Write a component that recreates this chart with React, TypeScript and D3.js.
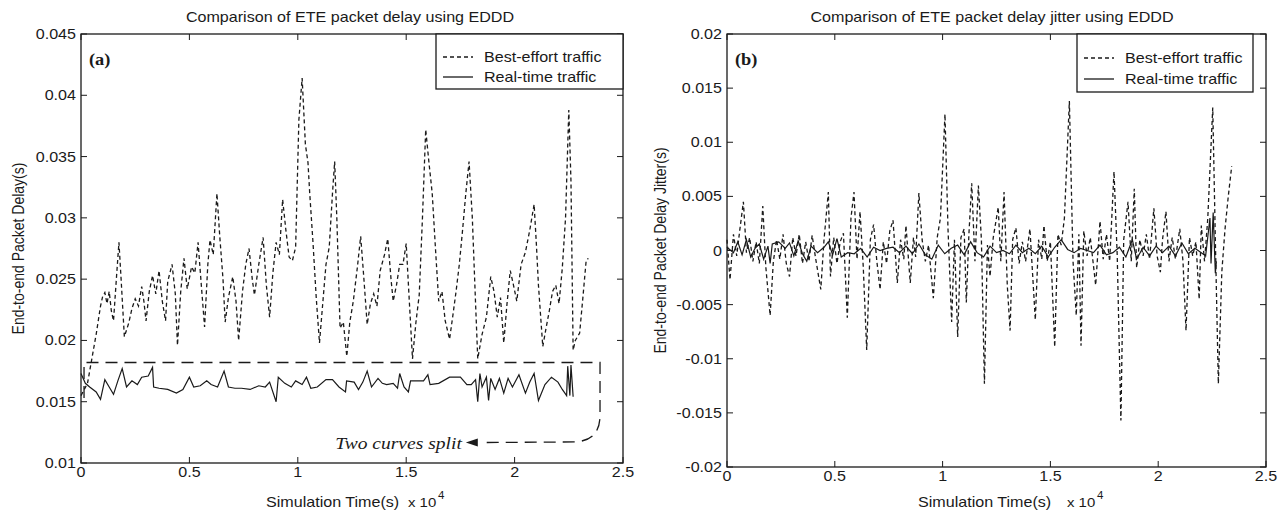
import * as d3 from "d3";
import { useEffect, useRef } from "react";

// time axis is in units of 10^4 s, like the original figure

// (a) end-to-end delay, best-effort traffic
const beTimeA = [0, 0.03, 0.05, 0.07, 0.09, 0.1, 0.11, 0.12, 0.13, 0.14, 0.15, 0.165, 0.175, 0.185, 0.2, 0.22, 0.235, 0.25, 0.265, 0.28, 0.29, 0.3, 0.315, 0.33, 0.345, 0.36, 0.375, 0.39, 0.4, 0.42, 0.435, 0.445, 0.46, 0.475, 0.49, 0.51, 0.525, 0.54, 0.555, 0.57, 0.585, 0.595, 0.61, 0.627, 0.64, 0.655, 0.665, 0.68, 0.7, 0.715, 0.727, 0.745, 0.76, 0.775, 0.79, 0.8, 0.82, 0.84, 0.855, 0.87, 0.885, 0.9, 0.915, 0.93, 0.945, 0.96, 0.975, 0.99, 1.005, 1.02, 1.035, 1.047, 1.055, 1.07, 1.085, 1.1, 1.115, 1.13, 1.145, 1.16, 1.17, 1.18, 1.195, 1.21, 1.226, 1.24, 1.256, 1.275, 1.29, 1.305, 1.32, 1.335, 1.35, 1.365, 1.38, 1.4, 1.415, 1.43, 1.44, 1.455, 1.47, 1.485, 1.5, 1.515, 1.529, 1.545, 1.56, 1.575, 1.59, 1.605, 1.62, 1.635, 1.65, 1.665, 1.68, 1.7, 1.715, 1.73, 1.745, 1.76, 1.775, 1.79, 1.805, 1.82, 1.83, 1.85, 1.87, 1.89, 1.905, 1.92, 1.935, 1.95, 1.965, 1.98, 1.995, 2.01, 2.03, 2.05, 2.07, 2.09, 2.1, 2.11, 2.13, 2.145, 2.16, 2.175, 2.19, 2.205, 2.22, 2.235, 2.25, 2.26, 2.27, 2.28, 2.3, 2.315, 2.33, 2.34];
const beDelay = [0.0155, 0.0165, 0.0185, 0.0205, 0.0228, 0.0236, 0.0239, 0.023, 0.024, 0.0224, 0.0216, 0.0255, 0.028, 0.025, 0.0203, 0.0214, 0.0226, 0.0234, 0.0228, 0.0244, 0.0232, 0.0216, 0.024, 0.0253, 0.0238, 0.0257, 0.0232, 0.0216, 0.0248, 0.0262, 0.0238, 0.0196, 0.024, 0.0267, 0.0242, 0.026, 0.0255, 0.028, 0.0245, 0.0211, 0.0262, 0.0282, 0.027, 0.032, 0.0285, 0.025, 0.0215, 0.0235, 0.0252, 0.0232, 0.02, 0.024, 0.0262, 0.0275, 0.025, 0.0237, 0.0262, 0.0284, 0.0245, 0.0219, 0.0255, 0.028, 0.027, 0.0315, 0.029, 0.0268, 0.0265, 0.0276, 0.038, 0.0414, 0.036, 0.0345, 0.032, 0.028, 0.0235, 0.0198, 0.023, 0.0262, 0.0276, 0.032, 0.0346, 0.03, 0.021, 0.0215, 0.0187, 0.0215, 0.0232, 0.026, 0.0285, 0.025, 0.0213, 0.023, 0.0238, 0.0228, 0.0257, 0.027, 0.0283, 0.025, 0.0232, 0.0245, 0.0262, 0.0262, 0.0279, 0.023, 0.0185, 0.0215, 0.0237, 0.03, 0.0372, 0.0345, 0.032, 0.0275, 0.0232, 0.024, 0.0216, 0.0201, 0.022, 0.024, 0.0262, 0.029, 0.032, 0.0346, 0.03, 0.023, 0.0185, 0.0205, 0.0219, 0.0252, 0.024, 0.0219, 0.0235, 0.0198, 0.023, 0.0257, 0.0245, 0.0232, 0.0262, 0.0272, 0.029, 0.0311, 0.028, 0.0245, 0.0195, 0.021, 0.0224, 0.024, 0.0245, 0.023, 0.0259, 0.03, 0.0388, 0.033, 0.0192, 0.02, 0.0206, 0.0235, 0.0265, 0.0267];

// (a) end-to-end delay, real-time traffic
const rtTimeA = [0, 0.02, 0.04, 0.07, 0.09, 0.11, 0.13, 0.15, 0.17, 0.19, 0.21, 0.235, 0.26, 0.28, 0.31, 0.33, 0.335, 0.36, 0.4, 0.44, 0.47, 0.5, 0.52, 0.55, 0.58, 0.6, 0.63, 0.66, 0.68, 0.71, 0.74, 0.78, 0.82, 0.85, 0.87, 0.9, 0.91, 0.94, 0.97, 0.99, 1.02, 1.04, 1.06, 1.09, 1.13, 1.16, 1.19, 1.22, 1.225, 1.26, 1.28, 1.3, 1.32, 1.34, 1.37, 1.39, 1.41, 1.44, 1.46, 1.47, 1.49, 1.51, 1.52, 1.56, 1.58, 1.6, 1.61, 1.65, 1.7, 1.75, 1.78, 1.8, 1.82, 1.83, 1.84, 1.85, 1.87, 1.88, 1.89, 1.91, 1.93, 1.95, 1.97, 1.99, 2.02, 2.05, 2.07, 2.09, 2.11, 2.14, 2.17, 2.2, 2.22, 2.24, 2.245, 2.255, 2.26, 2.27];
const rtDelay = [0.0173, 0.0165, 0.0162, 0.0158, 0.0152, 0.0168, 0.0162, 0.0156, 0.0167, 0.0177, 0.0162, 0.0167, 0.0164, 0.017, 0.0171, 0.0178, 0.0162, 0.0161, 0.016, 0.0157, 0.016, 0.017, 0.0162, 0.0163, 0.0167, 0.0164, 0.0162, 0.0175, 0.0162, 0.0161, 0.0161, 0.016, 0.0163, 0.0162, 0.0166, 0.015, 0.017, 0.0165, 0.0162, 0.0167, 0.0164, 0.017, 0.0161, 0.0162, 0.0168, 0.0168, 0.0162, 0.0158, 0.0167, 0.0166, 0.016, 0.0166, 0.0175, 0.0162, 0.0169, 0.0165, 0.0164, 0.0165, 0.0161, 0.0173, 0.0162, 0.0158, 0.0167, 0.0167, 0.0167, 0.0172, 0.0164, 0.0165, 0.017, 0.017, 0.0164, 0.0164, 0.0168, 0.015, 0.0173, 0.0162, 0.017, 0.0151, 0.0169, 0.016, 0.0169, 0.0157, 0.0169, 0.0162, 0.0172, 0.0157, 0.0166, 0.0173, 0.0151, 0.0164, 0.017, 0.0166, 0.016, 0.0155, 0.0179, 0.0155, 0.018, 0.0154];

// (b) delay jitter, best-effort traffic
const beTimeB = [0, 0.014, 0.03, 0.045, 0.06, 0.076, 0.09, 0.105, 0.12, 0.135, 0.15, 0.166, 0.18, 0.2, 0.215, 0.23, 0.245, 0.26, 0.275, 0.29, 0.305, 0.32, 0.335, 0.35, 0.365, 0.38, 0.395, 0.41, 0.435, 0.45, 0.47, 0.48, 0.495, 0.51, 0.525, 0.54, 0.558, 0.575, 0.589, 0.603, 0.617, 0.632, 0.648, 0.665, 0.68, 0.695, 0.71, 0.725, 0.74, 0.755, 0.77, 0.79, 0.805, 0.82, 0.83, 0.85, 0.865, 0.875, 0.89, 0.905, 0.92, 0.935, 0.957, 0.975, 0.99, 1.011, 1.025, 1.042, 1.055, 1.07, 1.085, 1.1, 1.11, 1.122, 1.135, 1.15, 1.166, 1.18, 1.194, 1.208, 1.22, 1.235, 1.258, 1.27, 1.285, 1.3, 1.313, 1.325, 1.34, 1.355, 1.37, 1.385, 1.405, 1.43, 1.445, 1.46, 1.47, 1.485, 1.5, 1.52, 1.535, 1.55, 1.565, 1.588, 1.605, 1.62, 1.632, 1.642, 1.655, 1.67, 1.685, 1.71, 1.73, 1.745, 1.76, 1.775, 1.795, 1.81, 1.827, 1.84, 1.86, 1.875, 1.889, 1.9, 1.915, 1.93, 1.945, 1.96, 1.98, 1.995, 2.01, 2.02, 2.036, 2.05, 2.065, 2.08, 2.1, 2.115, 2.129, 2.145, 2.16, 2.175, 2.19, 2.2, 2.215, 2.23, 2.253, 2.265, 2.279, 2.295, 2.31, 2.325, 2.341];
const beJitter = [0.001, -0.0027, 0.0015, -0.0005, 0.002, 0.0045, -0.0002, 0.0012, -0.001, 0.0008, -0.0012, 0.0041, -0.0015, -0.006, -0.001, 0.001, -0.0008, 0.0015, -0.0012, -0.0024, 0.0012, -0.0005, 0.0015, -0.0012, 0.0008, -0.001, 0.0014, -0.0006, -0.0036, 0.001, 0.0054, -0.0024, 0.0012, -0.0012, 0.0008, 0.0016, -0.0062, 0.003, 0.0054, -0.0008, 0.0036, -0.0015, -0.0092, 0.001, 0.0024, -0.001, -0.0036, 0.0008, -0.0012, 0.0018, 0.0028, -0.003, 0.001, -0.0008, 0.0023, -0.003, 0.0012, -0.0006, 0.0053, 0.001, -0.001, 0.0005, -0.0044, 0.0012, 0.003, 0.0126, 0.002, -0.0066, 0.001, -0.008, 0.0012, 0.002, -0.0048, 0.0015, 0.0062, -0.001, 0.006, 0.001, -0.0123, 0.0005, -0.0024, 0.0012, 0.004, -0.001, 0.0054, -0.0032, -0.0074, 0.001, 0.0021, -0.0012, 0.0008, -0.001, 0.002, -0.0064, 0.001, -0.0008, 0.0023, -0.001, 0.0008, -0.0089, 0.0015, 0.0005, 0.003, 0.0138, -0.001, -0.006, 0.0015, -0.0088, 0.0018, -0.0005, 0.0012, -0.0032, 0.0027, -0.0008, 0.0015, -0.001, 0.0073, -0.0005, -0.0157, 0.001, 0.0045, -0.001, 0.0057, -0.0016, 0.001, -0.0005, 0.0015, -0.0008, 0.0039, -0.0005, -0.002, 0.001, 0.0036, -0.001, 0.0012, -0.0008, 0.002, -0.001, -0.0074, 0.0012, -0.0005, 0.0008, -0.0045, 0.0023, -0.001, 0.003, 0.0132, 0.001, -0.0123, -0.002, 0.002, 0.005, 0.0078];

// (b) delay jitter, real-time traffic
const rtTimeB = [0, 0.03, 0.05, 0.07, 0.09, 0.11, 0.13, 0.15, 0.17, 0.19, 0.2, 0.21, 0.24, 0.27, 0.29, 0.31, 0.33, 0.35, 0.37, 0.39, 0.42, 0.45, 0.47, 0.49, 0.51, 0.53, 0.56, 0.59, 0.62, 0.65, 0.68, 0.71, 0.74, 0.77, 0.8, 0.83, 0.86, 0.89, 0.92, 0.95, 0.98, 1.01, 1.04, 1.07, 1.1, 1.13, 1.16, 1.19, 1.22, 1.25, 1.28, 1.31, 1.34, 1.37, 1.4, 1.43, 1.46, 1.49, 1.52, 1.55, 1.58, 1.61, 1.64, 1.67, 1.7, 1.73, 1.76, 1.79, 1.82, 1.85, 1.88, 1.9, 1.93, 1.96, 1.99, 2.02, 2.05, 2.08, 2.11, 2.14, 2.17, 2.2, 2.22, 2.24, 2.245, 2.255, 2.265, 2.27];
const rtJitter = [0.0003, -0.0002, 0.0008, -0.0004, 0.001, -0.0006, 0.0002, 0.0006, -0.0008, 0.0004, -0.0012, 0.0006, 0.0008, 0.0002, 0.0007, -0.0005, 0.0009, -0.0003, -0.001, 0.0004, -0.0002, 0.0003, 0.0008, -0.0004, 0.0011, -0.0006, -0.0002, -0.0003, 0.0002, -0.0006, 0.0003, 0, 0.0002, 0.0003, -0.0002, 0.0004, -0.0003, 0.0006, -0.0004, -0.0008, 0.0005, -0.0003, 0.0002, 0.0005, -0.0004, 0.0008, -0.0002, -0.0006, 0.0004, -0.0002, 0, -0.0003, 0.0005, -0.0002, 0.0002, -0.0003, 0.0004, -0.0006, 0.0003, 0.001, 0.0001, -0.0002, 0.0002, 0, -0.0002, 0.0005, -0.0004, -0.0002, 0.0003, -0.0006, 0.001, -0.0008, 0.0003, -0.0005, 0.0004, -0.0002, 0.0004, -0.0005, 0.0007, -0.0003, 0.0002, -0.0002, -0.0005, 0.003, -0.0012, 0.0035, -0.0021, -0.001];

const xTicks = [0, 0.5, 1, 1.5, 2, 2.5];
const yTicksA = [0.01, 0.015, 0.02, 0.025, 0.03, 0.035, 0.04, 0.045];
const yTicksB = [-0.02, -0.015, -0.01, -0.005, 0, 0.005, 0.01, 0.015, 0.02];
const legendLabels = ["Best-effort traffic", "Real-time traffic"];

const W = 1285;
const H = 513;
const SX = 1.15; // the figure is a little wider than tall
const FONT = "'Liberation Sans', Arial, sans-serif";
const SERIF = "'Liberation Serif', 'Times New Roman', serif";
const INK = "#1a1a1a";

function txt(g, x, y, s, size, anchor = "start", extra = {}) {
  const t = g.append("text")
    .attr("transform", `translate(${x},${y}) scale(${SX},1)` + (extra.rotate ? " rotate(-90)" : ""))
    .attr("font-family", extra.family || FONT)
    .attr("font-size", size)
    .attr("text-anchor", anchor)
    .attr("fill", INK)
    .text(s);
  if (extra.weight) t.attr("font-weight", extra.weight);
  if (extra.style) t.attr("font-style", extra.style);
  if (extra.dy) t.attr("dy", extra.dy);
  return t;
}

function drawPanel(svg, p) {
  const g = svg.append("g");
  const x = d3.scaleLinear().domain([0, 2.5]).range([p.left, p.right]);
  const y = d3.scaleLinear().domain(p.yDomain).range([p.bottom, p.top]);
  const tick = 6;

  // frame
  g.append("rect")
    .attr("x", p.left).attr("y", p.top)
    .attr("width", p.right - p.left).attr("height", p.bottom - p.top)
    .attr("fill", "none").attr("stroke", INK).attr("stroke-width", 1.3);

  xTicks.forEach((v) => {
    const px = x(v);
    g.append("line").attr("x1", px).attr("x2", px).attr("y1", p.bottom).attr("y2", p.bottom - tick).attr("stroke", INK);
    g.append("line").attr("x1", px).attr("x2", px).attr("y1", p.top).attr("y2", p.top + tick).attr("stroke", INK);
    txt(g, px, p.bottom + 14, String(v), 14, "middle");
  });
  p.yTicks.forEach((v) => {
    const py = y(v);
    g.append("line").attr("x1", p.left).attr("x2", p.left + tick).attr("y1", py).attr("y2", py).attr("stroke", INK);
    g.append("line").attr("x1", p.right).attr("x2", p.right - tick).attr("y1", py).attr("y2", py).attr("stroke", INK);
    txt(g, p.left - 5, py, String(v), 14, "end", { dy: "0.36em" });
  });

  const line = d3.line().x((d) => x(d[0])).y((d) => y(d[1]));
  g.append("path")
    .attr("d", line(d3.zip(p.beTime, p.beVal)))
    .attr("fill", "none").attr("stroke", INK).attr("stroke-width", 1.3)
    .attr("stroke-dasharray", "4,3");
  g.append("path")
    .attr("d", line(d3.zip(p.rtTime, p.rtVal)))
    .attr("fill", "none").attr("stroke", INK).attr("stroke-width", 1.2);

  // texts
  txt(g, p.titleX, 22, p.title, 14, "middle");
  txt(g, p.xLabelX, 507, "Simulation Time(s)", 14, "start");
  txt(g, p.xLabelX + p.expOffset, 507, "x 10", 13, "start");
  txt(g, p.xLabelX + p.expOffset + 30, 499, "4", 10, "start");
  txt(g, p.yLabelX, (p.top + p.bottom) / 2, p.yLabel, 14, "middle", { rotate: true });
  txt(g, p.left + 8, 65, p.tag, 16, "start", { weight: "bold", family: SERIF });

  // legend
  const lg = p.legend;
  g.append("rect")
    .attr("x", lg.x0).attr("y", p.top)
    .attr("width", lg.x1 - lg.x0).attr("height", lg.y1 - p.top)
    .attr("fill", "#fff").attr("stroke", INK).attr("stroke-width", 1.3);
  legendLabels.forEach((s, i) => {
    const ly = lg.rows[i];
    g.append("line")
      .attr("x1", lg.x0 + 7).attr("x2", lg.x0 + 37).attr("y1", ly).attr("y2", ly)
      .attr("stroke", INK).attr("stroke-width", 1.3)
      .attr("stroke-dasharray", i === 0 ? "4,3" : null);
    txt(g, lg.x0 + 48, ly, s, 14, "start", { dy: "0.36em" });
  });

  return { g, x, y };
}

export default function App() {
  const ref = useRef(null);

  useEffect(() => {
    const svg = d3.select(ref.current);
    svg.selectAll("*").remove();
    svg.append("rect").attr("width", W).attr("height", H).attr("fill", "#fff");

    const a = drawPanel(svg, {
      left: 81, right: 623, top: 34, bottom: 463,
      yDomain: [0.01, 0.045], yTicks: yTicksA,
      beTime: beTimeA, beVal: beDelay, rtTime: rtTimeA, rtVal: rtDelay,
      title: "Comparison of ETE packet delay using EDDD", titleX: 350,
      yLabel: "End-to-end Packet Delay(s)", yLabelX: 24,
      xLabelX: 266, expOffset: 142, tag: "(a)",
      legend: { x0: 436, x1: 623, y1: 89, rows: [57, 77] },
    });

    drawPanel(svg, {
      left: 727, right: 1266, top: 34, bottom: 467,
      yDomain: [-0.02, 0.02], yTicks: yTicksB,
      beTime: beTimeB, beVal: beJitter, rtTime: rtTimeB, rtVal: rtJitter,
      title: "Comparison of ETE packet delay jitter using EDDD", titleX: 992,
      yLabel: "End-to-end Packet Delay Jitter(s)", yLabelX: 666,
      xLabelX: 918, expOffset: 149, tag: "(b)",
      legend: { x0: 1077, x1: 1253, y1: 92, rows: [58, 79] },
    });

    // "two curves split" callout on panel (a)
    const { g, x, y } = a;
    const path = d3.path();
    path.moveTo(x(0.014), y(0.0153));
    path.lineTo(x(0.014), y(0.0182));
    path.lineTo(x(2.394), y(0.0182));
    path.lineTo(x(2.394), y(0.0139));
    path.bezierCurveTo(x(2.394), y(0.0124), x(2.35), y(0.0118), x(2.28), y(0.01172));
    path.lineTo(x(1.86), y(0.01167));
    g.append("path").attr("d", path.toString())
      .attr("fill", "none").attr("stroke", INK).attr("stroke-width", 1.3)
      .attr("stroke-dasharray", "12,7");
    const tipX = x(1.775), tipY = y(0.01167);
    g.append("path")
      .attr("d", `M${tipX},${tipY} L${tipX + 12},${tipY - 4} L${tipX + 12},${tipY + 4} Z`)
      .attr("fill", INK);
    txt(g, tipX - 4, tipY + 6, "Two curves split", 17, "end", { style: "italic", family: SERIF });
  }, []);

  return (
    <svg ref={ref} width={W} height={H} style={{ position: "absolute", left: 0, top: 0 }} />
  );
}
